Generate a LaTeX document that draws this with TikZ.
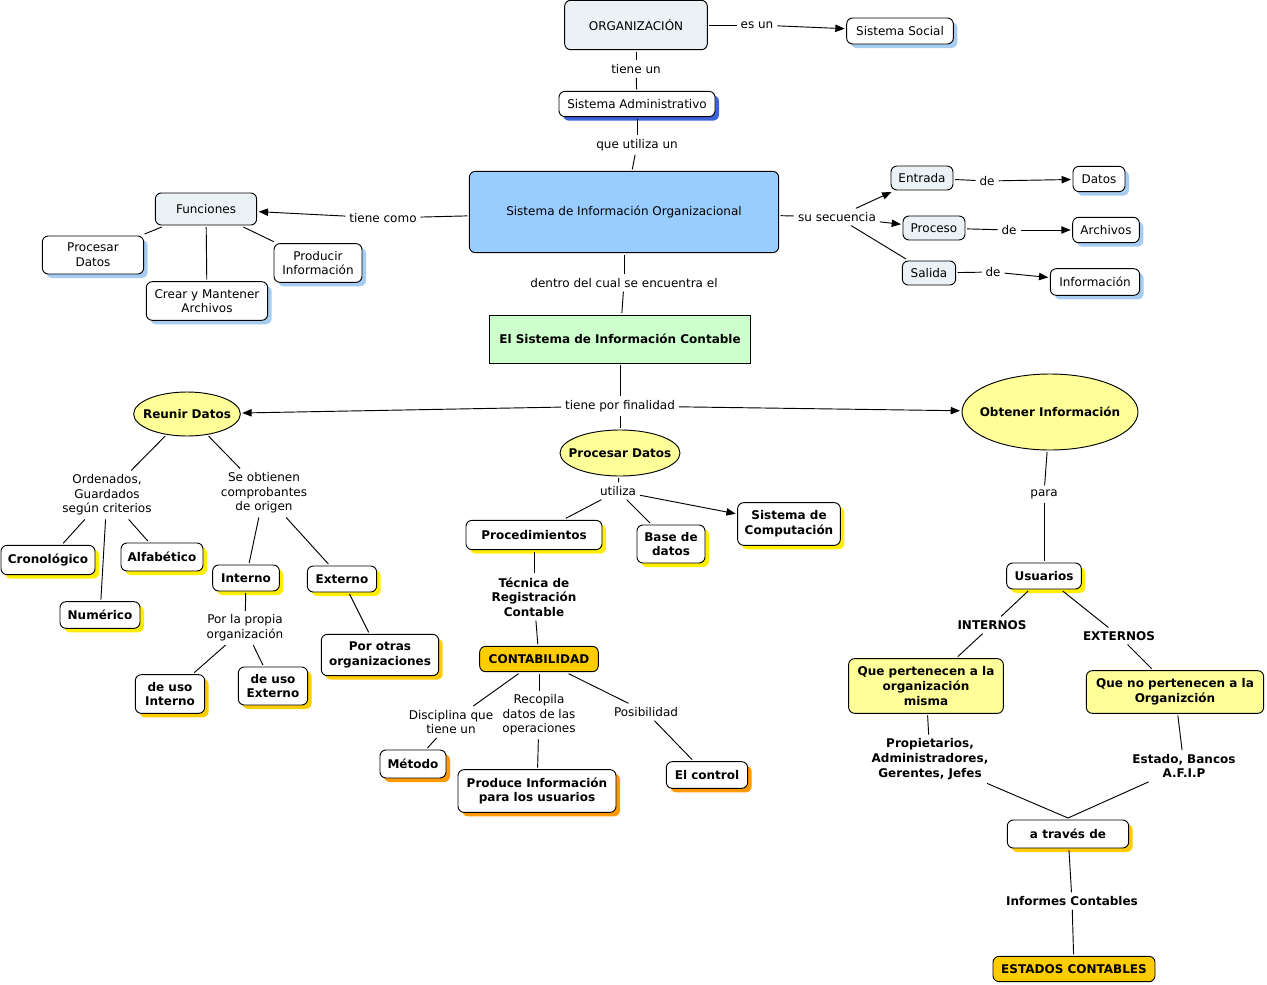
\documentclass[tikz,border=0pt]{standalone}
\usepackage{fontspec}
\setmainfont{DejaVu Sans}
\usepackage{xcolor}
\usepackage{tikz}
\usetikzlibrary{positioning,arrows.meta,shapes.geometric,shadows}

\definecolor{grisazul}{HTML}{EBF2F5}
\definecolor{celeste}{HTML}{99CCFF}
\definecolor{sombraceleste}{HTML}{A6CCF2}
\definecolor{azuloscuro}{HTML}{3D63DB}
\definecolor{verdeclaro}{HTML}{CCFFCC}
\definecolor{amarilloclaro}{HTML}{FFFF99}
\definecolor{dorado}{HTML}{FFCC00}
\definecolor{sombraamarilla}{HTML}{FFEE00}
\definecolor{naranja}{HTML}{FF9900}

\begin{document}
\begin{tikzpicture}[x=0.75pt, y=-0.75pt, line width=0.7pt,
  font=\fontsize{9}{11}\selectfont,
  concepto/.style={draw, rounded corners=4.5pt, fill=white, align=center, inner sep=2pt, outer sep=1.5pt},
  elipse/.style={ellipse, draw, fill=amarilloclaro, inner xsep=-7pt, inner ysep=0pt, outer sep=1.5pt, font=\fontsize{9}{11}\selectfont\bfseries},
  negrita/.style={font=\fontsize{9}{11}\selectfont\bfseries},
  enlace/.style={align=center, inner sep=1pt, outer sep=2pt},
  sombra/.style={drop shadow={shadow xshift=3pt, shadow yshift=-3pt, fill=#1, opacity=1}},
  flecha/.style={-{Triangle[length=7pt,width=5.5pt]}}]
\useasboundingbox (0,0) rectangle (1267,985);

% parte superior
\node[concepto, fill=grisazul, minimum width=107pt, minimum height=37pt] (org) at (636,25) {ORGANIZACIÓN};
\node[concepto, sombra=sombraceleste, minimum width=80pt, minimum height=19.5pt] (social) at (900,31) {Sistema Social};
\node[concepto, sombra=azuloscuro, minimum width=117pt, minimum height=19pt] (sadm) at (637,104) {Sistema Administrativo};
\node[concepto, fill=celeste, minimum width=232pt, minimum height=61pt] (sio) at (624,212) {Sistema de Información Organizacional};
\node[enlace] (esun) at (757,25) {es un};
\node[enlace] (tieneun) at (636,69) {tiene un};
\node[enlace] (queutil) at (637,145) {que utiliza un};
\draw (org) -- (esun);
\draw[flecha] (esun) -- (social);
\draw (org) -- (tieneun);
\draw (tieneun) -- (sadm);
\draw (sadm) -- (queutil);
\draw (queutil) -- (sio);

% funciones
\node[concepto, fill=grisazul, minimum width=76pt, minimum height=24pt] (fun) at (206,209) {Funciones};
\node[concepto, sombra=sombraceleste, minimum width=76pt, minimum height=28.5pt] (procd) at (93,255) {Procesar\\Datos};
\node[concepto, sombra=sombraceleste, minimum width=91pt, minimum height=29pt] (crear) at (207,301) {Crear y Mantener\\Archivos};
\node[concepto, sombra=sombraceleste, minimum width=66pt, minimum height=29pt] (prodinf) at (318,263) {Producir\\Información};
\node[enlace] (tienecomo) at (383,218) {tiene como};
\draw (sio) -- (tienecomo);
\draw[flecha] (tienecomo) -- (fun);
\draw (fun) -- (procd);
\draw (fun) -- (crear);
\draw (fun) -- (prodinf);

% secuencia
\node[concepto, fill=grisazul, minimum width=46.5pt, minimum height=18pt] (ent) at (922,178) {Entrada};
\node[concepto, fill=grisazul, minimum width=46.5pt, minimum height=18pt] (proc) at (934,228) {Proceso};
\node[concepto, fill=grisazul, minimum width=40pt, minimum height=18pt] (sal) at (929,273) {Salida};
\node[concepto, sombra=sombraceleste, minimum width=39pt, minimum height=19pt] (datos) at (1099,179) {Datos};
\node[concepto, sombra=sombraceleste, minimum width=50pt, minimum height=19pt] (arch) at (1106,230) {Archivos};
\node[concepto, sombra=sombraceleste, minimum width=67pt, minimum height=20pt] (info) at (1095,282) {Información};
\node[enlace] (susec) at (837,217) {su secuencia};
\node[enlace] (de1) at (987,181) {de};
\node[enlace] (de2) at (1009,230) {de};
\node[enlace] (de3) at (993,272) {de};
\draw (sio) -- (susec);
\draw[flecha] (susec) -- (ent);
\draw[flecha] (susec) -- (proc);
\draw (susec) -- (sal);
\draw (ent) -- (de1);
\draw[flecha] (de1) -- (datos);
\draw (proc) -- (de2);
\draw[flecha] (de2) -- (arch);
\draw (sal) -- (de3);
\draw[flecha] (de3) -- (info);

% sistema contable
\node[draw, fill=verdeclaro, negrita, minimum width=196pt, minimum height=36pt, outer sep=1.5pt] (sic) at (620,339) {El Sistema de Información Contable};
\node[enlace] (dentro) at (624,283) {dentro del cual se encuentra el};
\node[elipse, minimum width=80pt, minimum height=33pt] (reunir) at (187,414) {Reunir Datos};
\node[elipse, minimum width=132pt, minimum height=57pt] (obtener) at (1050,412) {Obtener Información};
\node[elipse, minimum width=90pt, minimum height=34.5pt] (procesar) at (620,453) {Procesar Datos};
\node[enlace] (finalidad) at (620,406) {tiene por finalidad};
\draw (sio) -- (dentro);
\draw (dentro) -- (sic);
\draw (sic) -- (finalidad);
\draw[flecha] (finalidad) -- (reunir);
\draw[flecha] (finalidad) -- (obtener);
\draw (finalidad) -- (procesar);

% reunir datos
\node[enlace] (ordenados) at (107,495) {Ordenados,\\Guardados\\según criterios};
\node[enlace] (seobt) at (264,493) {Se obtienen\\comprobantes\\de origen};
\node[concepto, negrita, sombra=sombraamarilla, minimum width=70.5pt, minimum height=22pt] (crono) at (48,560) {Cronológico};
\node[concepto, negrita, sombra=sombraamarilla, minimum width=61.5pt, minimum height=21pt] (alfa) at (162,557) {Alfabético};
\node[concepto, negrita, sombra=sombraamarilla, minimum width=60pt, minimum height=20pt] (numer) at (100,615) {Numérico};
\node[concepto, negrita, sombra=sombraamarilla, minimum width=50pt, minimum height=19.5pt] (interno) at (246,578) {Interno};
\node[concepto, negrita, sombra=sombraamarilla, minimum width=52pt, minimum height=19.5pt] (externo) at (342,579) {Externo};
\node[enlace] (porprop) at (245,628) {Por la propia\\organización};
\node[concepto, negrita, sombra=dorado, minimum width=52pt, minimum height=29pt] (usoint) at (170,694) {de uso\\Interno};
\node[concepto, negrita, sombra=dorado, minimum width=52pt, minimum height=28.5pt] (usoext) at (273,686) {de uso\\Externo};
\node[concepto, negrita, sombra=dorado, minimum width=88pt, minimum height=31pt] (porotras) at (380,655) {Por otras\\organizaciones};
\draw (reunir) -- (ordenados);
\draw (ordenados) -- (crono);
\draw (ordenados) -- (numer);
\draw (ordenados) -- (alfa);
\draw (reunir) -- (seobt);
\draw (seobt) -- (interno);
\draw (seobt) -- (externo);
\draw (interno) -- (porprop);
\draw (porprop) -- (usoint);
\draw (porprop) -- (usoext);
\draw (externo) -- (porotras);

% procesar datos
\node[enlace] (utiliza) at (618,491) {utiliza};
\node[concepto, negrita, sombra=sombraamarilla, minimum width=102pt, minimum height=22pt] (procedim) at (534,535) {Procedimientos};
\node[concepto, negrita, sombra=sombraamarilla, minimum width=51pt, minimum height=28.5pt] (basedat) at (671,544) {Base de\\datos};
\node[concepto, negrita, sombra=sombraamarilla, minimum width=77pt, minimum height=32pt] (sistcomp) at (789,524) {Sistema de\\Computación};
\node[enlace, negrita] (tecnica) at (534,597) {Técnica de\\Registración\\Contable};
\node[concepto, negrita, fill=dorado, minimum width=89pt, minimum height=19pt] (contab) at (539,659) {CONTABILIDAD};
\node[enlace] (disciplina) at (451,722) {Disciplina que\\tiene un};
\node[enlace] (recopila) at (539,715) {Recopila\\datos de las\\operaciones};
\node[enlace] (posib) at (646,712) {Posibilidad};
\node[concepto, negrita, sombra=naranja, minimum width=49.5pt, minimum height=21pt] (metodo) at (413,764) {Método};
\node[concepto, negrita, sombra=naranja, minimum width=118.5pt, minimum height=32pt] (produce) at (537,791) {Produce Información\\para los usuarios};
\node[concepto, negrita, sombra=naranja, minimum width=61pt, minimum height=20pt] (control) at (707,775) {El control};
\draw (procesar) -- (utiliza);
\draw (utiliza) -- (procedim);
\draw (utiliza) -- (basedat);
\draw[flecha] (utiliza) -- (sistcomp);
\draw (procedim) -- (tecnica);
\draw (tecnica) -- (contab);
\draw (contab) -- (disciplina);
\draw (disciplina) -- (metodo);
\draw (contab) -- (recopila);
\draw (recopila) -- (produce);
\draw (contab) -- (posib);
\draw (posib) -- (control);

% obtener informacion
\node[enlace] (para) at (1044,494) {para};
\node[concepto, negrita, sombra=sombraamarilla, minimum width=56pt, minimum height=19.5pt] (usuarios) at (1044,576) {Usuarios};
\node[enlace, negrita] (internos) at (992,625) {INTERNOS};
\node[enlace, negrita] (externos) at (1119,636) {EXTERNOS};
\node[concepto, negrita, fill=amarilloclaro, minimum width=116pt, minimum height=41pt] (quepert) at (926,686) {Que pertenecen a la\\organización\\misma};
\node[concepto, negrita, fill=amarilloclaro, minimum width=133pt, minimum height=32pt] (queno) at (1175,692) {Que no pertenecen a la\\Organizción};
\node[enlace, negrita] (propiet) at (930,759) {Propietarios,\\Administradores,\\Gerentes, Jefes};
\node[enlace, negrita] (estado) at (1184,766) {Estado, Bancos\\A.F.I.P};
\node[concepto, negrita, sombra=dorado, minimum width=91pt, minimum height=21pt] (atraves) at (1068,834) {a través de};
\node[enlace, negrita] (informes) at (1072,901) {Informes Contables};
\node[concepto, negrita, fill=dorado, minimum width=121.5pt, minimum height=19pt] (estados) at (1074,969) {ESTADOS CONTABLES};
\draw (obtener) -- (para);
\draw (para) -- (usuarios);
\draw (usuarios) -- (internos);
\draw (internos) -- (quepert);
\draw (usuarios) -- (externos);
\draw (externos) -- (queno);
\draw (quepert) -- (propiet);
\draw (queno) -- (estado);
\draw (propiet) -- (atraves.north);
\draw (estado) -- (atraves.north);
\draw (atraves) -- (informes);
\draw (informes) -- (estados);
\end{tikzpicture}
\end{document}
